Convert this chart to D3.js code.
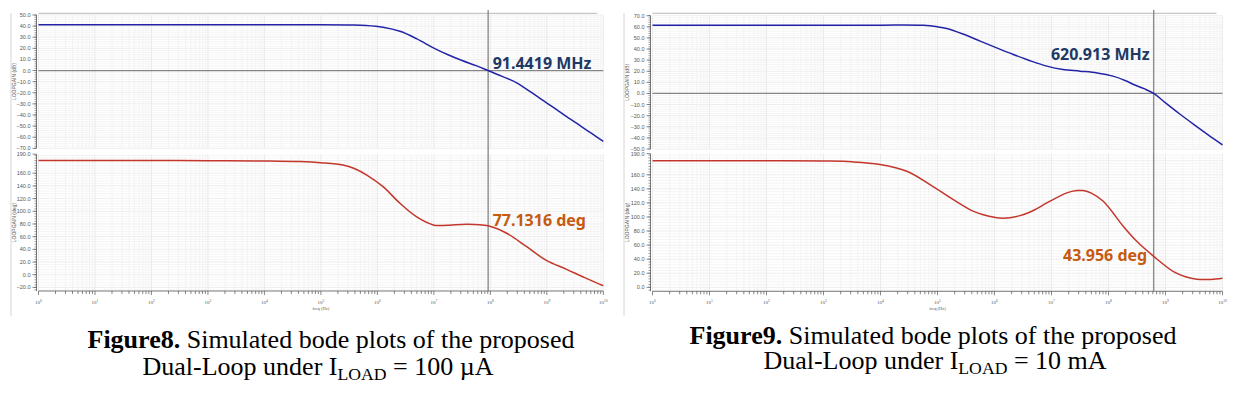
<!DOCTYPE html>
<html>
<head>
<meta charset="utf-8">
<script src="https://cdn.jsdelivr.net/npm/d3@7"></script>
<style>
  body { margin: 0; background: #fff; }
</style>
</head>
<body>
<script>
// ---- Figure 8: I_LOAD = 100 uA ----
const freqGain8 = [1, 10, 100, 1e3, 1e4, 1e5, 3.16e5, 6.3e5, 1.26e6, 2.51e6, 5.0e6, 1e7, 1.78e7, 3.16e7, 5.6e7, 9.144e7, 1.58e8, 2.88e8, 5.0e8, 7.9e8, 1.41e9, 2.24e9, 3.98e9, 6.3e9, 1e10];
const gain8     = [41.2, 41.2, 41.2, 41.2, 41.2, 41.2, 41.0, 40.6, 39.0, 35.3, 28.5, 20.2, 14.2, 9.0, 4.4, 0, -5.0, -10.8, -18.8, -25.7, -34.3, -41.5, -50, -56.8, -63.8];
const freqPhase8 = [1, 10, 100, 1e3, 1e4, 4.3e4, 1e5, 2.45e5, 4e5, 6.5e5, 1.26e6, 2.51e6, 4.9e6, 9.8e6, 1.26e7, 1.9e7, 3.8e7, 9.144e7, 1.95e8, 4.4e8, 9.8e8, 2.24e9, 4.5e9, 9.3e9, 1e10];
const phase8     = [180, 180, 180, 179.8, 179.3, 178.3, 176.5, 173, 167, 157, 138.8, 112.6, 91.5, 78.4, 77.5, 78, 79.6, 77.1, 65.3, 44.2, 22.5, 8.5, -4, -16.2, -17];

// ---- Figure 9: I_LOAD = 10 mA ----
const freqGain9 = [1, 10, 100, 1e3, 1e4, 5.6e4, 1e5, 1.45e5, 2.8e5, 5.6e5, 1.12e6, 2.14e6, 4.2e6, 8.3e6, 1.58e7, 3.16e7, 6.3e7, 1.2e8, 2e8, 2.75e8, 4.2e8, 6.209e8, 1e9, 1.78e9, 3.16e9, 5.6e9, 1e10];
const gain9     = [61.5, 61.5, 61.5, 61.5, 61.5, 61.3, 60, 58.5, 53.5, 47.1, 40.8, 35.1, 29.5, 24.6, 21.6, 20.1, 18.5, 15.6, 11.5, 8.1, 4.3, 0, -8.5, -18.5, -28, -37.2, -46.2];
const freqPhase9 = [1, 10, 100, 1e3, 3.16e3, 9.8e3, 2.9e4, 7.4e4, 1.9e5, 4.3e5, 8e5, 1.4e6, 2.8e6, 5e6, 8.3e6, 1.86e7, 2.8e7, 3.6e7, 5e7, 8.1e7, 1.82e8, 3.16e8, 6.209e8, 1.38e9, 2.24e9, 3.55e9, 6.3e9, 1e10];
const phase9     = [180, 180, 180, 179.6, 178.5, 174.7, 165.1, 146.1, 124.7, 108, 101, 98.2, 101.9, 110, 120, 134.3, 137.5, 137.6, 134, 122.3, 86.6, 65, 44, 22.3, 15, 11.4, 11.2, 13];

// cursor readouts
const crossFreq   = [91.4419e6, 620.913e6];
const crossLabels = ["91.4419 MHz", "620.913 MHz"];
const phaseMargin = [77.1316, 43.956];
const pmLabels    = ["77.1316 deg", "43.956 deg"];

// tick labels
const gainTicks8  = [-70, -60, -50, -40, -30, -20, -10, 0, 10, 20, 30, 40, 50];
const gainTicks9  = [-50, -40, -30, -20, -10, 0, 10, 20, 30, 40, 50, 60, 70];
const phaseTicks8 = [-20, 0, 20, 40, 60, 80, 100, 120, 140, 160, 190];
const phaseTicks9 = [0, 20, 40, 60, 80, 100, 120, 140, 160, 190];
const decades = [0, 1, 2, 3, 4, 5, 6, 7, 8, 9, 10];

const captionNum  = ["Figure8.", "Figure9."];
const captionText = " Simulated bode plots of the proposed";
const loadText    = ["= 100 \u00B5A", "= 10 mA"];

const W = 1237, H = 394;
const svg = d3.select("body").append("svg").attr("width", W).attr("height", H)
  .attr("font-family", "Liberation Sans");

const panels = [
  { freqG: freqGain8, gain: gain8, freqP: freqPhase8, phase: phase8, cross: crossFreq[0], crossLabel: crossLabels[0],
    pm: phaseMargin[0], pmLabel: pmLabels[0], gTicks: gainTicks8, pTicks: phaseTicks8,
    edge: 11, x0: 38.5, x1: 603.3, gRange: [148.3, 15], gDom: [-70, 50], pRange: [291, 154.2], pDom: [-25.7, 190],
    gLab: { dx: 4.5, dy: -1.4, anchor: "start" }, pLab: { dx: 4.5, dy: 0, anchor: "start" },
    cap: { num: captionNum[0], load: loadText[0], c1: 331, c2: 318, y1: 348, y2: 375, size: 26 } },
  { freqG: freqGain9, gain: gain9, freqP: freqPhase9, phase: phase9, cross: crossFreq[1], crossLabel: crossLabels[1],
    pm: phaseMargin[1], pmLabel: pmLabels[1], gTicks: gainTicks9, pTicks: phaseTicks9,
    edge: 624, x0: 652.5, x1: 1222.5, gRange: [149, 15.7], gDom: [-50, 70], pRange: [291.3, 153.7], pDom: [-5.7, 190],
    gLab: { dx: -4, dy: -33, anchor: "end" }, pLab: { dx: -6.5, dy: 5, anchor: "end" },
    cap: { num: captionNum[1], load: loadText[1], c1: 933, c2: 935, y1: 343.5, y2: 369, size: 26 } }
];

function drawPanel(p) {
  const g = svg.append("g");
  const x = d3.scaleLog().domain([1, 1e10]).range([p.x0, p.x1]);
  const yG = d3.scaleLinear().domain(p.gDom).range(p.gRange);
  const yP = d3.scaleLinear().domain(p.pDom).range(p.pRange);

  // panel edge
  g.append("line").attr("x1", p.edge).attr("x2", p.edge).attr("y1", 13).attr("y2", 316)
    .attr("stroke", "#d6d6d6").attr("stroke-width", 1);

  const logTicks = [];
  decades.forEach(d => {
    for (let m = 1; m <= 9; m++) {
      const v = m * Math.pow(10, d);
      if (v <= 1e10) logTicks.push({ v: v, major: m === 1 });
    }
  });

  // grid + axes for both sub-plots
  [[yG, p.gDom, p.gTicks, 2, "LOOPGAIN (dB)"], [yP, p.pDom, p.pTicks, 4, "LOOPGAIN (deg)"]].forEach(([y, dom, ticks, step, title]) => {
    const r = y.range();
    const minor = d3.range(Math.ceil(dom[0] / step) * step, dom[1] + 0.01, step);
    g.append("g").selectAll("line").data(minor).join("line")
      .attr("x1", p.x0).attr("x2", p.x1).attr("y1", d => y(d)).attr("y2", d => y(d))
      .attr("stroke", d => d % (step * 5) === 0 ? "#e8e8e8" : "#f3f3f3").attr("stroke-width", 0.8);
    g.append("g").selectAll("line").data(logTicks).join("line")
      .attr("x1", d => x(d.v)).attr("x2", d => x(d.v)).attr("y1", r[0]).attr("y2", r[1])
      .attr("stroke", d => d.major ? "#e6e6e6" : "#f1f1f1").attr("stroke-width", 0.8);

    // y axis
    const ax = p.x0 - 2;
    g.append("line").attr("x1", ax).attr("x2", ax).attr("y1", r[0]).attr("y2", r[1])
      .attr("stroke", "#555").attr("stroke-width", 0.8);
    g.append("g").selectAll("line").data(minor).join("line")
      .attr("x1", ax).attr("x2", ax - 2).attr("y1", d => y(d)).attr("y2", d => y(d))
      .attr("stroke", "#555").attr("stroke-width", 0.6);
    g.append("g").selectAll("line").data(ticks).join("line")
      .attr("x1", ax).attr("x2", ax - 4).attr("y1", d => y(d)).attr("y2", d => y(d))
      .attr("stroke", "#555").attr("stroke-width", 0.7);
    g.append("g").selectAll("text").data(ticks).join("text")
      .attr("x", ax - 6).attr("y", d => Math.max(y(d), r[1]) + 2)
      .attr("text-anchor", "end").attr("font-size", 5.5).attr("fill", "#555")
      .text(d => d3.format(".1f")(d));
    g.append("text")
      .attr("transform", `translate(${p.edge + 4.5},${(r[0] + r[1]) / 2}) rotate(-90)`)
      .attr("text-anchor", "middle").attr("font-size", 5).attr("fill", "#555").text(title);
  });

  // top border
  g.append("line").attr("x1", p.x0).attr("x2", p.x1 - 6).attr("y1", 13.3).attr("y2", 13.3)
    .attr("stroke", "#b8b8b8").attr("stroke-width", 1);

  // x axis
  const xa = p.pRange[0];
  g.append("line").attr("x1", p.x0).attr("x2", p.x1).attr("y1", xa).attr("y2", xa)
    .attr("stroke", "#555").attr("stroke-width", 0.8);
  g.append("g").selectAll("line").data(logTicks).join("line")
    .attr("x1", d => x(d.v)).attr("x2", d => x(d.v)).attr("y1", xa).attr("y2", d => xa + (d.major ? 4 : 3))
    .attr("stroke", "#555").attr("stroke-width", 0.7);
  const xl = g.append("g").selectAll("text").data(decades).join("text")
    .attr("x", d => x(Math.pow(10, d))).attr("y", xa + 13)
    .attr("text-anchor", "middle").attr("font-size", 5).attr("fill", "#555")
    .attr("font-family", "Liberation Serif");
  xl.append("tspan").text("10");
  xl.append("tspan").attr("dy", -2.5).attr("font-size", 3.6).text(d => d);
  g.append("text").attr("x", x(1e5)).attr("y", xa + 19).attr("text-anchor", "middle")
    .attr("font-size", 4.5).attr("fill", "#555").attr("font-family", "Liberation Serif").text("freq (Hz)");

  // zero-dB line and cursor
  g.append("line").attr("x1", p.x0).attr("x2", p.x1).attr("y1", yG(0)).attr("y2", yG(0))
    .attr("stroke", "#858585").attr("stroke-width", 1.3);
  g.append("line").attr("x1", x(p.cross)).attr("x2", x(p.cross)).attr("y1", 10).attr("y2", xa)
    .attr("stroke", "#858585").attr("stroke-width", 1.3);

  // curves
  const gainLine = d3.line().x(d => x(d[0])).y(d => yG(d[1])).curve(d3.curveCatmullRom.alpha(0.5));
  const phaseLine = d3.line().x(d => x(d[0])).y(d => yP(d[1])).curve(d3.curveCatmullRom.alpha(0.5));
  g.append("path").datum(d3.zip(p.freqG, p.gain)).attr("d", gainLine)
    .attr("fill", "none").attr("stroke", "#2323a6").attr("stroke-width", 1.5);
  g.append("path").datum(d3.zip(p.freqP, p.phase)).attr("d", phaseLine)
    .attr("fill", "none").attr("stroke", "#c3362b").attr("stroke-width", 1.5);

  // cursor readouts
  g.append("text").attr("x", x(p.cross) + p.gLab.dx).attr("y", yG(0) + p.gLab.dy)
    .attr("text-anchor", p.gLab.anchor).attr("font-family", "Noto Sans").attr("font-weight", "bold")
    .attr("font-size", 16).attr("fill", "#203864").text(p.crossLabel);
  g.append("text").attr("x", x(p.cross) + p.pLab.dx).attr("y", yP(p.pm) + p.pLab.dy)
    .attr("text-anchor", p.pLab.anchor).attr("font-family", "Noto Sans").attr("font-weight", "bold")
    .attr("font-size", 16).attr("fill", "#c55a11").text(p.pmLabel);

  // caption
  const c = p.cap;
  const t1 = svg.append("text").attr("x", c.c1).attr("y", c.y1).attr("text-anchor", "middle")
    .attr("font-family", "Liberation Serif").attr("font-size", c.size).attr("fill", "#000");
  t1.append("tspan").attr("font-weight", "bold").text(c.num);
  t1.append("tspan").text(captionText);
  const t2 = svg.append("text").attr("x", c.c2).attr("y", c.y2).attr("text-anchor", "middle")
    .attr("font-family", "Liberation Serif").attr("font-size", c.size).attr("fill", "#000");
  t2.append("tspan").text("Dual-Loop under I");
  t2.append("tspan").attr("dy", 5).attr("font-size", c.size * 0.68).text("LOAD");
  t2.append("tspan").attr("dy", -5).text(" " + c.load);
}

panels.forEach(drawPanel);
</script>
</body>
</html>
